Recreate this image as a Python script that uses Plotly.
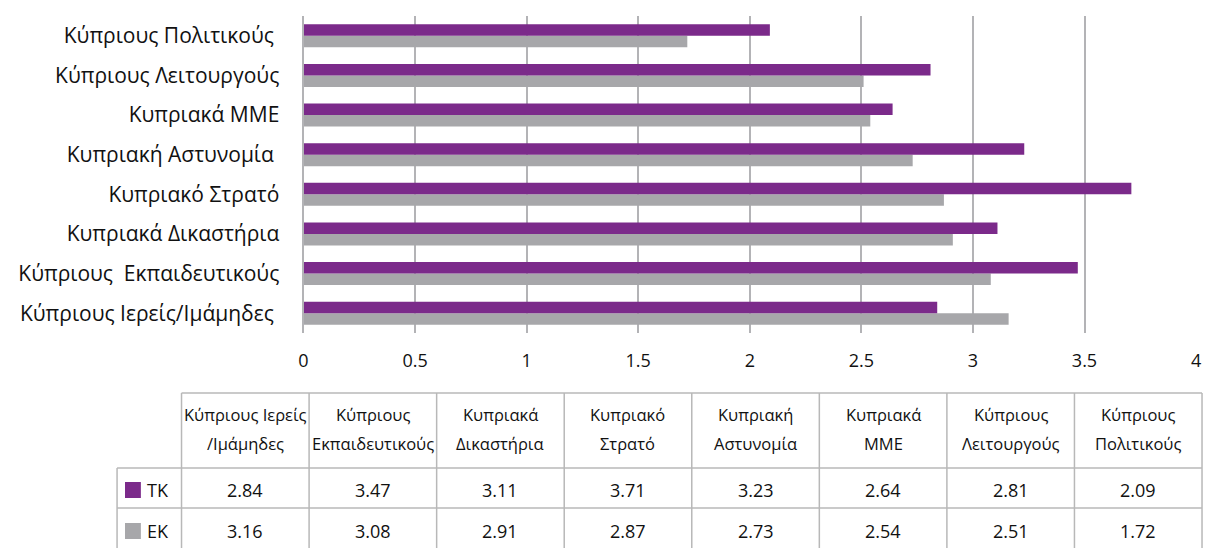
import plotly.graph_objects as go

# ---- data ----
categories = [
    "Κύπριους Ιερείς/Ιμάμηδες ",
    "Κύπριους  Εκπαιδευτικούς",
    "Κυπριακά Δικαστήρια",
    "Κυπριακό Στρατό",
    "Κυπριακή Αστυνομία ",
    "Κυπριακά ΜΜΕ",
    "Κύπριους Λειτουργούς",
    "Κύπριους Πολιτικούς ",
]
table_headers = [
    "Κύπριους Ιερείς<br>/Ιμάμηδες",
    "Κύπριους<br>Εκπαιδευτικούς",
    "Κυπριακά<br>Δικαστήρια",
    "Κυπριακό<br>Στρατό",
    "Κυπριακή<br>Αστυνομία",
    "Κυπριακά<br>ΜΜΕ",
    "Κύπριους<br>Λειτουργούς",
    "Κύπριους<br>Πολιτικούς",
]
tk_values = [2.84, 3.47, 3.11, 3.71, 3.23, 2.64, 2.81, 2.09]
ek_values = [3.16, 3.08, 2.91, 2.87, 2.73, 2.54, 2.51, 1.72]
series_names = ["TK", "EK"]
x_ticks = [0, 0.5, 1, 1.5, 2, 2.5, 3, 3.5, 4]
x_tick_text = ["0", "0.5", "1", "1.5", "2", "2.5", "3", "3.5", "4"]

# ---- style ----
W, H = 1209, 548
PURPLE = "#7B2A8A"
GRAY = "#A7A7AA"
GRID = "#B3B3B6"
LINE = "#B8B8B8"
FONT = "Open Sans"
TXT = "#111111"

def px(x):
    return x / W

def py(y):
    return 1 - y / H

fig = go.Figure()
fig.add_trace(go.Bar(y=categories, x=ek_values, name=series_names[1], orientation="h",
                     marker=dict(color=GRAY, line=dict(width=0))))
fig.add_trace(go.Bar(y=categories, x=tk_values, name=series_names[0], orientation="h",
                     marker=dict(color=PURPLE, line=dict(width=0))))

fig.update_layout(
    width=W, height=H,
    margin=dict(l=0, r=0, t=0, b=0),
    paper_bgcolor="white", plot_bgcolor="white",
    barmode="group", bargap=0.42, bargroupgap=0,
    showlegend=False,
    font=dict(family=FONT, size=18, color=TXT),
    xaxis=dict(domain=[px(301), px(1201)], range=[0, 4], tickvals=x_ticks, ticktext=x_tick_text,
               showgrid=True, gridcolor=GRID, gridwidth=2, zeroline=False, showline=False,
               ticks="", ticklabelstandoff=15, tickfont=dict(size=18, family=FONT, color=TXT)),
    yaxis=dict(domain=[py(333), py(16)], type="category", categoryorder="array",
               categoryarray=categories, showgrid=False, zeroline=False,
               showline=True, linecolor=GRID, linewidth=2,
               ticks="", ticklabelstandoff=18, tickfont=dict(size=21, family=FONT, color=TXT)),
)

# ---- data table below the chart ----
tx0 = 178
tx1 = 1207
legx0 = 113
col_w = (tx1 - tx0) / len(categories)
y_top, y_hdr, y_r1, y_r2 = 393, 468, 508, 560

shapes = []
def hline(x0, x1, y):
    shapes.append(dict(type="line", xref="paper", yref="paper", x0=px(x0), x1=px(x1),
                       y0=py(y), y1=py(y), line=dict(color=LINE, width=1.5)))

def vline(x, y0, y1):
    shapes.append(dict(type="line", xref="paper", yref="paper", x0=px(x), x1=px(x),
                       y0=py(y0), y1=py(y1), line=dict(color=LINE, width=1.5)))

hline(tx0, tx1, y_top)
hline(legx0, tx1, y_hdr)
hline(legx0, tx1, y_r1)
vline(legx0, y_hdr, y_r2)
for i in range(len(categories) + 1):
    vline(tx0 + i * col_w, y_top, y_r2)

annotations = []
for i, h in enumerate(table_headers):
    cx = tx0 + (i + 0.5) * col_w
    for j, line in enumerate(h.split("<br>")):
        annotations.append(dict(x=px(cx), y=py(414 + 29 * j), xref="paper", yref="paper",
                                text=line, showarrow=False, xanchor="center", yanchor="middle",
                                font=dict(size=16.5, family=FONT, color=TXT)))
rows = [(tk_values, PURPLE, series_names[0], 490),
        (ek_values, GRAY, series_names[1], 531)]
for vals, col, name, yc in rows:
    for i, v in enumerate(vals):
        cx = tx0 + (i + 0.5) * col_w
        annotations.append(dict(x=px(cx), y=py(yc), xref="paper", yref="paper",
                                text=f"{v:.2f}", showarrow=False, xanchor="center",
                                yanchor="middle", font=dict(size=18, family=FONT, color=TXT)))
    shapes.append(dict(type="rect", xref="paper", yref="paper",
                       x0=px(121), x1=px(137), y0=py(yc + 8), y1=py(yc - 8),
                       fillcolor=col, line=dict(width=0)))
    annotations.append(dict(x=px(141), y=py(yc), xref="paper", yref="paper",
                            text=name, showarrow=False, xanchor="left", yanchor="middle",
                            font=dict(size=18, family=FONT, color=TXT)))

fig.update_layout(shapes=shapes, annotations=annotations)
fig.write_html("out.html", config={"displayModeBar": False},
               post_script="document.body.style.margin='0';document.body.style.overflow='hidden';")
